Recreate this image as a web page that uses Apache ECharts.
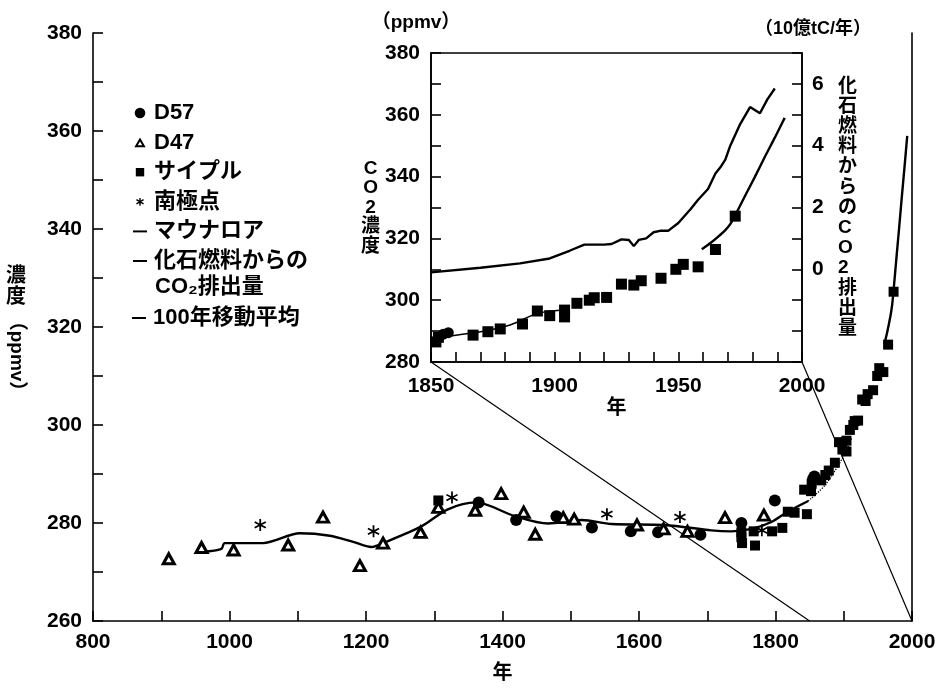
<!DOCTYPE html>
<html><head><meta charset="utf-8">
<script src="https://cdn.jsdelivr.net/npm/echarts@6/dist/echarts.min.js"></script>
<style>html,body{margin:0;padding:0;background:#fff}#c{width:941px;height:688px}</style>
</head><body><div id="c"></div>
<script>
const FONT = "'Liberation Sans','Noto Sans CJK JP',sans-serif";

// ---- data (year, ppmv) ----
const d57 = [[1365,284.2],[1420,280.6],[1479,281.4],[1531,279.1],[1588,278.3],[1628,278.1],[1690,277.6],[1750,280.0],[1799,284.6],[1855,289.0],[1857,289.5]];
const d47 = [[911,272.7],[959,275.0],[1006,274.5],[1086,275.5],[1137,281.2],[1191,271.3],[1225,275.9],[1280,278.1],[1306,283.2],[1360,282.6],[1398,286.0],[1431,282.2],[1448,277.7],[1489,281.1],[1505,280.8],[1597,279.6],[1636,278.8],[1671,278.3],[1726,281.1],[1783,281.6]];
const siple = [[1306,284.6],[1750,278.1],[1750,277.1],[1751,275.9],[1768,278.3],[1770,275.4],[1795,278.3],[1810,279.0],[1818,282.3],[1828,282.1],[1842,286.8],[1846,281.8],[1852,286.5],[1853,288.0],[1867,288.7],[1873,289.8],[1878,290.7],[1887,292.3],[1893,296.5],[1898,295.0],[1904,296.8],[1904,294.6],[1909,299.0],[1914,300.0],[1916,300.8],[1921,300.9],[1927,305.2],[1932,304.9],[1935,306.3],[1943,307.1],[1949,310.0],[1952,311.6],[1958,310.8],[1965,316.4],[1973,327.2]];
const southPole = [[1045,279.6],[1211,278.3],[1326,285.2],[1553,281.8],[1660,281.2],[1780,278.5]];
const maunaLoa = [[1959.5,316.5],[1963,318.5],[1966,320.5],[1969,322.7],[1971,324.6],[1973,327.5],[1977,333.8],[1981,340.0],[1985,346.4],[1989,352.6],[1993,359.0]];
const movingAvg = [[961,274.1],[988,274.7],[993,275.9],[1049,275.9],[1103,277.9],[1147,277.4],[1180,276.2],[1208,275.1],[1225,275.9],[1281,279.3],[1320,282.8],[1361,284.2],[1418,281.4],[1467,279.9],[1516,280.6],[1560,279.8],[1638,279.6],[1706,278.5],[1735,278.3],[1765,278.8],[1794,280.2],[1819,282.4],[1848,284.5]];
const movingAvgLate = [[1848,284.5],[1873,287.8],[1902,294.2],[1912,297.5]];
const insetFit = [[1850,287.7],[1870,289.8],[1882,292.0],[1893,295.7],[1905,297.0]];
// fossil fuel emissions (10億tC/年)
const emissions = [[1850,-0.1],[1870,0.05],[1886,0.19],[1898,0.35],[1906,0.6],[1912,0.8],[1920,0.8],[1923,0.82],[1927,0.97],[1930,0.95],[1932,0.75],[1934,0.95],[1937,1.0],[1940,1.2],[1943,1.25],[1946,1.25],[1950,1.5],[1955,1.95],[1958,2.25],[1962,2.6],[1965,3.1],[1967,3.3],[1969,3.55],[1971,4.0],[1975,4.7],[1979,5.25],[1983,5.05],[1986,5.5],[1989,5.85]];
const zoomSpan = [1850, 2000];

const NAMES = {d57:'D57', d47:'D47', siple:'サイプル', sp:'南極点', ml:'マウナロア', em:'化石燃料からのCO₂排出量', ma:'100年移動平均'};

const ASTER = 'path://M43 0L57 0L57 100L43 100Z M2.7 32L9.7 19.8L97.3 68L90.3 80.2Z M9.7 80.2L2.7 68L90.3 19.8L97.3 32Z';
const I_CIRCLE = 'path://M0 0M100 100M12 50A38 38 0 1 0 88 50A38 38 0 1 0 12 50Z';
const I_TRI = 'path://M0 0M100 100M22 76L78 76L50 28Z';
const I_SQ = 'path://M0 0M100 100M20 20L80 20L80 80L20 80Z';
const I_AST = 'path://M0 0M100 100M45 22L55 22L55 78L45 78Z M22 39L27 30L78 60L73 69Z M27 69L22 60L73 30L78 39Z';
const I_LINE = 'path://M0 0M100 100M0 43L100 43L100 57L0 57Z';

const txt = (s, o) => Object.assign({color:'#000', fontFamily:FONT, fontSize:21, fontWeight:'bold'}, o||{});
const inset = a => a.filter(p => p[0] >= zoomSpan[0]);

function axisCommon(extra){
  return Object.assign({
    axisLine:{show:true, onZero:false, lineStyle:{color:'#000', width:1.6}},
    axisTick:{show:true, inside:true, length:10, lineStyle:{color:'#000', width:1.6}},
    splitLine:{show:false}
  }, extra);
}

const option = {
  animation:false,
  backgroundColor:'#fff',
  textStyle:{fontFamily:FONT},
  grid:[
    {left:93, right:29, top:33, bottom:60, containLabel:false},
    {left:431, right:139, top:53, bottom:326, show:true, borderColor:'#000', borderWidth:1.6, backgroundColor:'#fff', containLabel:false}
  ],
  xAxis:[
    axisCommon({gridIndex:0, type:'value', min:800, max:2000, interval:100,
      axisLabel:txt('', {margin:11, formatter:v => v % 200 === 0 ? String(v) : ''}),
      name:'年', nameLocation:'middle', nameGap:42, nameTextStyle:txt('',{fontSize:20})}),
    axisCommon({gridIndex:1, type:'value', min:1850, max:2000, interval:10,
      axisLabel:txt('', {margin:14, formatter:v => v % 50 === 0 ? String(v) : ''}),
      name:'年', nameLocation:'middle', nameGap:36, nameTextStyle:txt('',{fontSize:20})})
  ],
  yAxis:[
    axisCommon({gridIndex:0, type:'value', min:260, max:380, interval:10,
      axisLabel:txt('', {margin:11, formatter:v => v % 20 === 0 ? String(v) : ''})}),
    {gridIndex:0, type:'value', position:'right', min:260, max:380, interval:10,
      axisLine:{show:true, lineStyle:{color:'#000', width:1.6}}, axisTick:{show:false}, axisLabel:{show:false}, splitLine:{show:false}},
    axisCommon({gridIndex:1, type:'value', min:280, max:380, interval:10,
      axisLabel:txt('', {margin:11, formatter:v => v % 20 === 0 ? String(v) : ''}),
      name:'C\nO\n2\n濃\n度', nameLocation:'middle', nameRotate:0, nameGap:52,
      nameTextStyle:txt('', {fontSize:19, lineHeight:19.5, align:'center'})}),
    axisCommon({gridIndex:1, type:'value', position:'right', min:-3, max:7, interval:1,
      axisLabel:txt('', {margin:10, formatter:v => (v >= 0 && v % 2 === 0) ? String(v) : ''}),
      name:'化\n石\n燃\n料\nか\nら\nの\nC\nO\n2\n排\n出\n量', nameLocation:'middle', nameRotate:0, nameGap:36,
      nameTextStyle:txt('', {fontSize:19, lineHeight:20.2})})
  ],
  legend:[
    {orient:'vertical', left:132, top:102, padding:0, itemWidth:18, itemHeight:14, itemGap:7.6,
      textStyle:txt('', {fontSize:22, lineHeight:20}), selectedMode:false,
      formatter: n => n === NAMES.em ? '化石燃料からの' : n,
      data:[{name:NAMES.d57, icon:I_CIRCLE},{name:NAMES.d47, icon:I_TRI},{name:NAMES.siple, icon:I_SQ},{name:NAMES.sp, icon:I_AST},{name:NAMES.ml, icon:I_LINE},{name:NAMES.em, icon:I_LINE}]},
    {orient:'vertical', left:132, top:307, padding:0, itemWidth:18, itemHeight:14,
      textStyle:txt('', {fontSize:22, lineHeight:20}), selectedMode:false,
      data:[{name:NAMES.ma, icon:I_LINE}]}
  ],
  series:[
    {name:NAMES.ma, type:'line', xAxisIndex:0, yAxisIndex:0, data:movingAvg, smooth:0.3, showSymbol:false, symbol:'none',
      lineStyle:{color:'#000', width:2.4}, itemStyle:{color:'#000'}, z:2},
    {name:NAMES.ma, type:'line', xAxisIndex:0, yAxisIndex:0, data:movingAvgLate, smooth:0.3, symbol:'none',
      lineStyle:{color:'#000', width:1.3, type:'dotted'}, itemStyle:{color:'#000'}, z:2},
    {name:NAMES.ml, type:'line', xAxisIndex:0, yAxisIndex:0, data:maunaLoa, symbol:'none', smooth:0.2,
      lineStyle:{color:'#000', width:2.4}, itemStyle:{color:'#000'}, z:2},
    {name:NAMES.d57, type:'scatter', xAxisIndex:0, yAxisIndex:0, data:d57, symbol:'circle', symbolSize:12,
      itemStyle:{color:'#000', opacity:1}, z:4},
    {name:NAMES.d47, type:'scatter', xAxisIndex:0, yAxisIndex:0, data:d47, symbol:'triangle', symbolSize:[11,10],
      itemStyle:{color:'#fff', borderColor:'#000', borderWidth:3, opacity:1}, z:4},
    {name:NAMES.siple, type:'scatter', xAxisIndex:0, yAxisIndex:0, data:siple, symbol:'rect', symbolSize:[10,10],
      itemStyle:{color:'#000', opacity:1}, z:4},
    {name:NAMES.sp, type:'scatter', xAxisIndex:0, yAxisIndex:0, data:southPole, symbol:ASTER, symbolSize:12,
      itemStyle:{color:'#000', opacity:1}, z:4},
    // inset
    {name:NAMES.em, type:'line', xAxisIndex:1, yAxisIndex:3, data:emissions, symbol:'none',
      lineStyle:{color:'#000', width:2.4}, itemStyle:{color:'#000'}, z:3},
    {name:NAMES.ml, type:'line', xAxisIndex:1, yAxisIndex:2, data:maunaLoa, symbol:'none', smooth:0.2,
      lineStyle:{color:'#000', width:2.4}, itemStyle:{color:'#000'}, z:3},
    {name:NAMES.ma, type:'line', xAxisIndex:1, yAxisIndex:2, data:insetFit, symbol:'none', smooth:0.3,
      lineStyle:{color:'#000', width:1.6}, itemStyle:{color:'#000'}, z:3},
    {name:NAMES.siple, type:'scatter', xAxisIndex:1, yAxisIndex:2, data:inset(siple), symbol:'rect', symbolSize:[11,11],
      itemStyle:{color:'#000', opacity:1}, z:4},
    {name:NAMES.d57, type:'scatter', xAxisIndex:1, yAxisIndex:2, data:inset(d57), symbol:'circle', symbolSize:11,
      itemStyle:{color:'#000', opacity:1}, z:4}
  ],
  graphic:[
    {id:'co2line2', type:'text', left:155, top:276, style:{text:'CO₂排出量', fill:'#000', font:'bold 22px ' + FONT}},
    {id:'ylab1', type:'text', x:16, y:266, style:{text:'濃\n度', fill:'#000', font:'bold 20px ' + FONT, align:'center', verticalAlign:'top', lineHeight:21}},
    {id:'ylab2', type:'text', x:16, y:356, rotation:-Math.PI/2, style:{text:'（ppmv）', fill:'#000', font:'bold 19px ' + FONT, align:'center', verticalAlign:'middle'}},
    {id:'unitL', type:'text', x:416, y:23, style:{text:'（ppmv）', fill:'#000', font:'bold 19px ' + FONT, align:'center', verticalAlign:'middle'}},
    {id:'unitR', type:'text', x:813, y:29, style:{text:'（10億tC/年）', fill:'#000', font:'bold 18px ' + FONT, align:'center', verticalAlign:'middle'}}
  ]
};

const chart = echarts.init(document.getElementById('c'), null, {renderer:'canvas'});
chart.setOption(option);

// zoom connectors from inset corners to main-axis span
const a1 = chart.convertToPixel({xAxisIndex:1, yAxisIndex:2}, [zoomSpan[0], 280]);
const b1 = chart.convertToPixel({xAxisIndex:0, yAxisIndex:0}, [zoomSpan[0], 260]);
const a2 = chart.convertToPixel({xAxisIndex:1, yAxisIndex:2}, [zoomSpan[1], 280]);
const b2 = chart.convertToPixel({xAxisIndex:0, yAxisIndex:0}, [zoomSpan[1], 260]);
chart.setOption({graphic:[
  {id:'conn1', type:'line', shape:{x1:a1[0], y1:a1[1], x2:b1[0], y2:b1[1]}, style:{stroke:'#000', lineWidth:1.2}, z:1},
  {id:'conn2', type:'line', shape:{x1:a2[0], y1:a2[1], x2:b2[0], y2:b2[1]}, style:{stroke:'#000', lineWidth:1.2}, z:1}
]});
</script>
</body></html>
